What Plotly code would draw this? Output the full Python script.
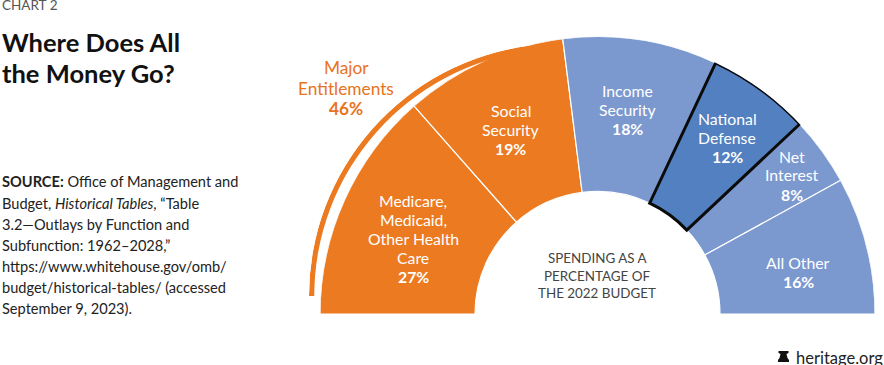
import numpy as np
import plotly.graph_objects as go

W, H = 884, 365
categories = ["Medicare, Medicaid, Other Health Care", "Social Security", "Income Security",
              "National Defense", "Net Interest", "All Other"]
shares = [27, 19, 18, 12, 8, 16]
colors = ["#EC7A20", "#EC7A20", "#7B98CF", "#5380C0", "#7B98CF", "#7B98CF"]
entitlement_share = 46

shares_arr = np.array(shares, dtype=float)
edges = np.concatenate([[0], np.cumsum(shares_arr)]) * 180 / shares_arr.sum()
mids = (edges[:-1] + edges[1:]) / 2
widths = np.diff(edges)
ent_deg = entitlement_share * 180 / shares_arr.sum()

CX, CY = 597.5, 314
R_IN, R_OUT = 122.5, 277.5
ARC_IN, ARC_OUT = 282.5, 288.5

fig = go.Figure()
others = [i for i in range(len(shares)) if categories[i] != "National Defense"]
fig.add_trace(go.Barpolar(
    theta=mids[others], width=widths[others], r=[R_OUT - R_IN] * len(others), base=[R_IN] * len(others),
    marker=dict(color=[colors[i] for i in others], line=dict(color="white", width=1.2)),
    text=[categories[i] for i in others], hoverinfo="text", subplot="polar"))
nd = categories.index("National Defense")
fig.add_trace(go.Barpolar(
    theta=[mids[nd]], width=[widths[nd]], r=[R_OUT - R_IN], base=[R_IN],
    marker=dict(color=colors[nd], line=dict(color="#0b0b0b", width=3)),
    text=[categories[nd]], hoverinfo="text", subplot="polar"))
fig.add_trace(go.Barpolar(
    theta=[ent_deg / 2], width=[ent_deg], r=[ARC_OUT - ARC_IN], base=[ARC_IN],
    marker=dict(color="#EC7A20", line=dict(width=0)), hoverinfo="skip", subplot="polar2"))

def px(x): return x / W
def py(y): return 1 - y / H

ang = dict(visible=False, direction="clockwise", rotation=180, thetaunit="degrees")
arc_right = CX + ARC_OUT * np.cos(np.radians(180 - ent_deg))
arc_top = CY - ARC_OUT * np.sin(np.radians(180 - ent_deg))

annotations = []
def label(x, y, text, size, color, family="Lato", anchor="center"):
    annotations.append(dict(x=px(x), y=py(y), xref="paper", yref="paper", text=text, showarrow=False,
                            xanchor=anchor, yanchor="middle", align=anchor, xshift=0,
                            borderpad=0, font=dict(size=size, color=color, family=family)))

WHITE = "#ffffff"
for x, lines in [
    (413, [("Medicare,", 200), ("Medicaid,", 219), ("Other Health", 238.5), ("Care", 257), ("<b>27%</b>", 276)]),
    (511, [("Social", 110), ("Security", 129), ("<b>19%</b>", 148)]),
    (627, [("Income", 90), ("Security", 109), ("<b>18%</b>", 128)]),
    (727, [("National", 118), ("Defense", 137), ("<b>12%</b>", 156)]),
    (792, [("Net", 156), ("Interest", 175), ("<b>8%</b>", 194)]),
    (798, [("All Other", 262), ("<b>16%</b>", 281)]),
]:
    for t, y in lines:
        label(x, y, t, 15.8, WHITE)

for t, y in [("Major", 67.5), ("Entitlements", 88), ("<b>46%</b>", 108)]:
    label(346, y, t, 17.3, "#E8731C")
for t, y in [("SPENDING AS A", 258), ("PERCENTAGE OF", 276), ("THE 2022 BUDGET", 293)]:
    label(597, y, t, 13.4, "#444444")

label(1, 4.5, "CHART 2", 13.5, "#555555", anchor="left")
label(1, 42, "<b>Where Does All</b>", 25.5, "#111111", anchor="left")
label(1, 73, "<b>the Money Go?</b>", 25.5, "#111111", anchor="left")

source_lines = ["<b>SOURCE:</b> Office of Management and", "Budget, <i>Historical Tables</i>, “Table",
                "3.2—Outlays by Function and", "Subfunction: 1962–2028,”",
                "https://www.whitehouse.gov/omb/", "budget/historical-tables/ (accessed", "September 9, 2023)."]
for t, y in zip(source_lines, [182, 203, 224, 245, 266, 287, 308]):
    label(1, y, t, 14.6, "#222222", anchor="left")
label(795, 358, "heritage.org", 16.5, "#222222", anchor="left")

bell = ("M 778 362 L 789 362 L 789 360 L 787.5 358 L 786.5 354 L 788.5 353 L 788.5 351 "
        "L 778.5 351 L 778.5 353 L 780.5 354 L 779.5 358 L 778 360 Z")
def path_to_paper(p):
    out, is_x = [], True
    for tok in p.split():
        if tok.isalpha():
            out.append(tok)
        else:
            out.append(f"{px(float(tok)) if is_x else py(float(tok)):.5f}")
            is_x = not is_x
    return " ".join(out)

fig.update_layout(
    width=W, height=H, margin=dict(l=0, r=0, t=0, b=0), showlegend=False,
    paper_bgcolor="white", plot_bgcolor="white", annotations=annotations,
    shapes=[dict(type="path", xref="paper", yref="paper", path=path_to_paper(bell),
                 fillcolor="#111111", line=dict(width=0))],
    polar=dict(domain=dict(x=[px(CX - R_OUT), px(CX + R_OUT)], y=[py(CY), py(CY - R_OUT)]),
               sector=[0, 180], bgcolor="rgba(0,0,0,0)", barmode="overlay",
               radialaxis=dict(visible=False, range=[0, R_OUT]), angularaxis=ang),
    polar2=dict(domain=dict(x=[px(CX - ARC_OUT), px(arc_right)], y=[py(CY), py(arc_top)]),
                sector=[180 - ent_deg, 180], bgcolor="rgba(0,0,0,0)", barmode="overlay",
                radialaxis=dict(visible=False, range=[0, ARC_OUT]), angularaxis=ang),
)
fig.write_html("out.html", config=dict(displayModeBar=False),
               post_script="document.body.style.margin='0';document.body.style.overflow='hidden';")
